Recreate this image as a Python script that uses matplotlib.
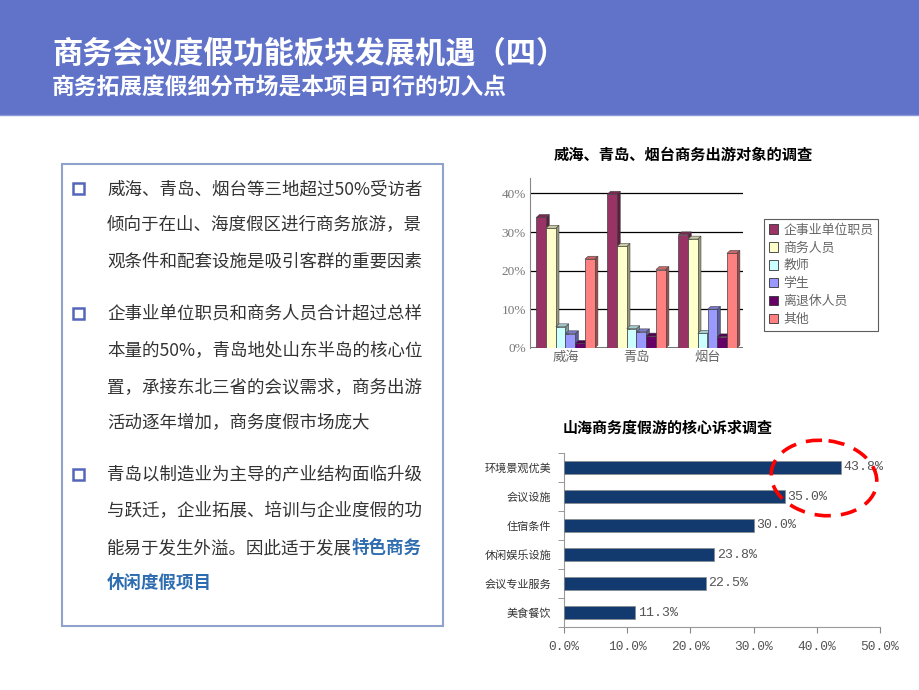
import matplotlib
matplotlib.use('Agg')
import matplotlib.pyplot as plt
from matplotlib.patches import Rectangle, Polygon, Ellipse, Patch
from matplotlib.colors import to_rgb
import numpy as np

plt.rcParams['font.family'] = ['Noto Sans CJK SC', 'DejaVu Sans']

# ---------------- data ----------------
title_main = '商务会议度假功能板块发展机遇（四）'
title_sub = '商务拓展度假细分市场是本项目可行的切入点'

chart1_title = '威海、青岛、烟台商务出游对象的调查'
cities = ['威海', '青岛', '烟台']
groups = ['企事业单位职员', '商务人员', '教师', '学生', '离退休人员', '其他']
group_colors = ['#993366', '#FFFFCC', '#CCFFFF', '#9999FF', '#660066', '#FF8080']
staff = [33.8, 39.8, 29.3]
business = [31.0, 26.3, 28.2]
teachers = [5.5, 5.0, 3.8]
students = [3.7, 4.2, 10.0]
retirees = [1.2, 3.1, 2.9]
others = [23.0, 20.3, 24.5]
y1_ticks = [0, 10, 20, 30, 40]

chart2_title = '山海商务度假游的核心诉求调查'
appeal_items = ['环境景观优美', '会议设施', '住宿条件', '休闲娱乐设施', '会议专业服务', '美食餐饮']
appeal_values = [43.8, 35.0, 30.0, 23.8, 22.5, 11.3]
x2_ticks = [0, 10, 20, 30, 40, 50]

para1 = ['威海、青岛、烟台等三地超过50%受访者',
         '倾向于在山、海度假区进行商务旅游，景',
         '观条件和配套设施是吸引客群的重要因素']
para2 = ['企事业单位职员和商务人员合计超过总样',
         '本量的50%，青岛地处山东半岛的核心位',
         '置，承接东北三省的会议需求，商务出游',
         '活动逐年增加，商务度假市场庞大']
para3 = ['青岛以制造业为主导的产业结构面临升级',
         '与跃迁，企业拓展、培训与企业度假的功',
         '能易于发生外溢。因此适于发展']
highlight = ['特色商务', '休闲度假项目']

# ---------------- figure ----------------
W, H = 920, 690
fig = plt.figure(figsize=(W / 100, H / 100), dpi=100)
fig.patch.set_facecolor('white')


def fr(x0, y0, x1, y1):
    return [x0 / W, 1 - y1 / H, (x1 - x0) / W, (y1 - y0) / H]


# ---------------- chart 1: 3D-look clustered columns ----------------
ax1 = fig.add_axes(fr(530, 178, 743, 348))
ax1.set_xlim(-0.5, 2.5)
ax1.set_ylim(0, 44)
series = [staff, business, teachers, students, retirees, others]
bw = 0.137
dx, dy = 0.045, 0.75
xc = np.arange(len(cities))
for i, (vals, col) in enumerate(zip(series, group_colors)):
    xs = xc + (i - 2.5) * bw
    z = 3 + i * 0.1
    base = np.array(to_rgb(col))
    side = base * 0.6
    top = base * 0.8
    ax1.bar(xs, vals, width=bw, color=col, edgecolor='#404040', lw=0.5, zorder=z + 0.05)
    for x, v in zip(xs, vals):
        r = x + bw / 2
        l = x - bw / 2
        ax1.add_patch(Polygon([(r, 0), (r + dx, dy), (r + dx, v + dy), (r, v)],
                              closed=True, fc=side, ec='#404040', lw=0.4, zorder=z))
        ax1.add_patch(Polygon([(l, v), (l + dx, v + dy), (r + dx, v + dy), (r, v)],
                              closed=True, fc=top, ec='#404040', lw=0.4, zorder=z))
ax1.set_yticks(y1_ticks)
ax1.set_yticklabels([f'{t}%' for t in y1_ticks], family='Liberation Serif',
                    fontsize=9.5, color='#777777')
ax1.set_xticks(xc)
ax1.set_xticklabels(cities, fontsize=9.5, color='#666666')
ax1.tick_params(axis='both', length=0, pad=3)
ax1.tick_params(axis='x', pad=2)
ax1.yaxis.grid(True, color='black', lw=0.9, zorder=0)
ax1.set_axisbelow(True)
for s in ['top', 'right', 'bottom']:
    ax1.spines[s].set_visible(False)
ax1.spines['left'].set_color('#888888')
ax1.axhline(0, color='#777777', lw=1.5, zorder=1)
fig.text(683 / W, 1 - 155 / H, chart1_title, ha='center', va='center',
         fontsize=11, fontweight='bold', color='black')

handles = [Patch(fc=c, ec='#333333', lw=0.6) for c in group_colors]
leg = fig.legend(handles, groups, loc='upper left',
                 bbox_to_anchor=(764 / W, 1 - 219 / H), fontsize=9.3,
                 frameon=True, fancybox=False, edgecolor='#333333',
                 handlelength=0.75, handleheight=0.75, handletextpad=0.4,
                 labelspacing=0.38, borderpad=0.35, borderaxespad=0)
leg.get_frame().set_linewidth(0.8)
for t in leg.get_texts():
    t.set_color('#666666')

# ---------------- chart 2: horizontal bars ----------------
ax2 = fig.add_axes(fr(564, 453, 880, 627))
yy = np.arange(len(appeal_items))
ax2.barh(yy, appeal_values, height=0.45, color='#123A6E', edgecolor='#8a8a8a', lw=0.5, zorder=3)
ax2.set_ylim(len(appeal_items) - 0.5, -0.5)
ax2.set_xlim(0, 50)
ax2.set_yticks(yy)
ax2.set_yticklabels(appeal_items, fontsize=8, color='#333333')
ax2.set_yticks(np.arange(len(appeal_items) + 1) - 0.5, minor=True)
ax2.tick_params(axis='y', which='major', length=0, pad=9)
ax2.tick_params(axis='y', which='minor', length=4, color='#888888')
ax2.set_xticks(x2_ticks)
ax2.set_xticklabels([f'{t:.1f}%' for t in x2_ticks], family='Liberation Mono',
                    fontsize=9.3, color='#555555')
ax2.tick_params(axis='x', length=4, color='#888888', pad=6)
for s in ['top', 'right']:
    ax2.spines[s].set_visible(False)
for s in ['left', 'bottom']:
    ax2.spines[s].set_color('#999999')
for y, v in zip(yy, appeal_values):
    ax2.text(v + 0.35, y, f'{v:.1f}%', va='center', ha='left',
             family='Liberation Mono', fontsize=9.5, color='#555555', zorder=4)
fig.text(668 / W, 1 - 428 / H, chart2_title, ha='center', va='center',
         fontsize=10.8, fontweight='bold', color='black')

# ---------------- overlay in pixel coordinates ----------------
ov = fig.add_axes([0, 0, 1, 1], zorder=10)
ov.set_xlim(0, W)
ov.set_ylim(H, 0)
ov.axis('off')
ov.patch.set_alpha(0)

# header band
ov.add_patch(Rectangle((0, 0), W, 115, fc='#6073C9', ec='none'))
ov.plot([0, W], [114.5, 114.5], color='#8A98D8', lw=1)
ov.text(52, 53, title_main, fontsize=21.8, fontweight='bold', color='white',
        va='center', ha='left')
ov.text(52, 88, title_sub, fontsize=16.4, fontweight='bold', color='white',
        va='center', ha='left')

# text box
ov.add_patch(Rectangle((62, 164), 381, 462, fc='none', ec='#8EA2CC', lw=1.5))
text_kw = dict(fontsize=12.6, color='#333333', va='center', ha='left')
para_rows = [(para1, [189, 225, 262]),
             (para2, [314, 351, 387, 423]),
             (para3, [475, 511, 548])]
for lines, ys in para_rows:
    ov.add_patch(Rectangle((73, ys[0] - 6), 11, 11, fc='white', ec='#5566BB', lw=1.8))
    for s, y in zip(lines, ys):
        last = ov.text(107, y, s, **text_kw)
hl_kw = dict(fontsize=12.6, color='#2E6DB0', fontweight='bold')
ov.annotate(highlight[0], xy=(1, 0.5), xycoords=last, va='center', ha='left', **hl_kw)
ov.text(107, 583, highlight[1], va='center', ha='left', **hl_kw)

# dashed red ellipse highlighting top two values
ov.add_patch(Ellipse((824, 478), 106, 75, angle=7, fc='none', ec='#FF0000',
                     lw=2.6, linestyle=(0, (4.5, 2.8))))

fig.savefig('out.png', dpi=100, facecolor='white')
